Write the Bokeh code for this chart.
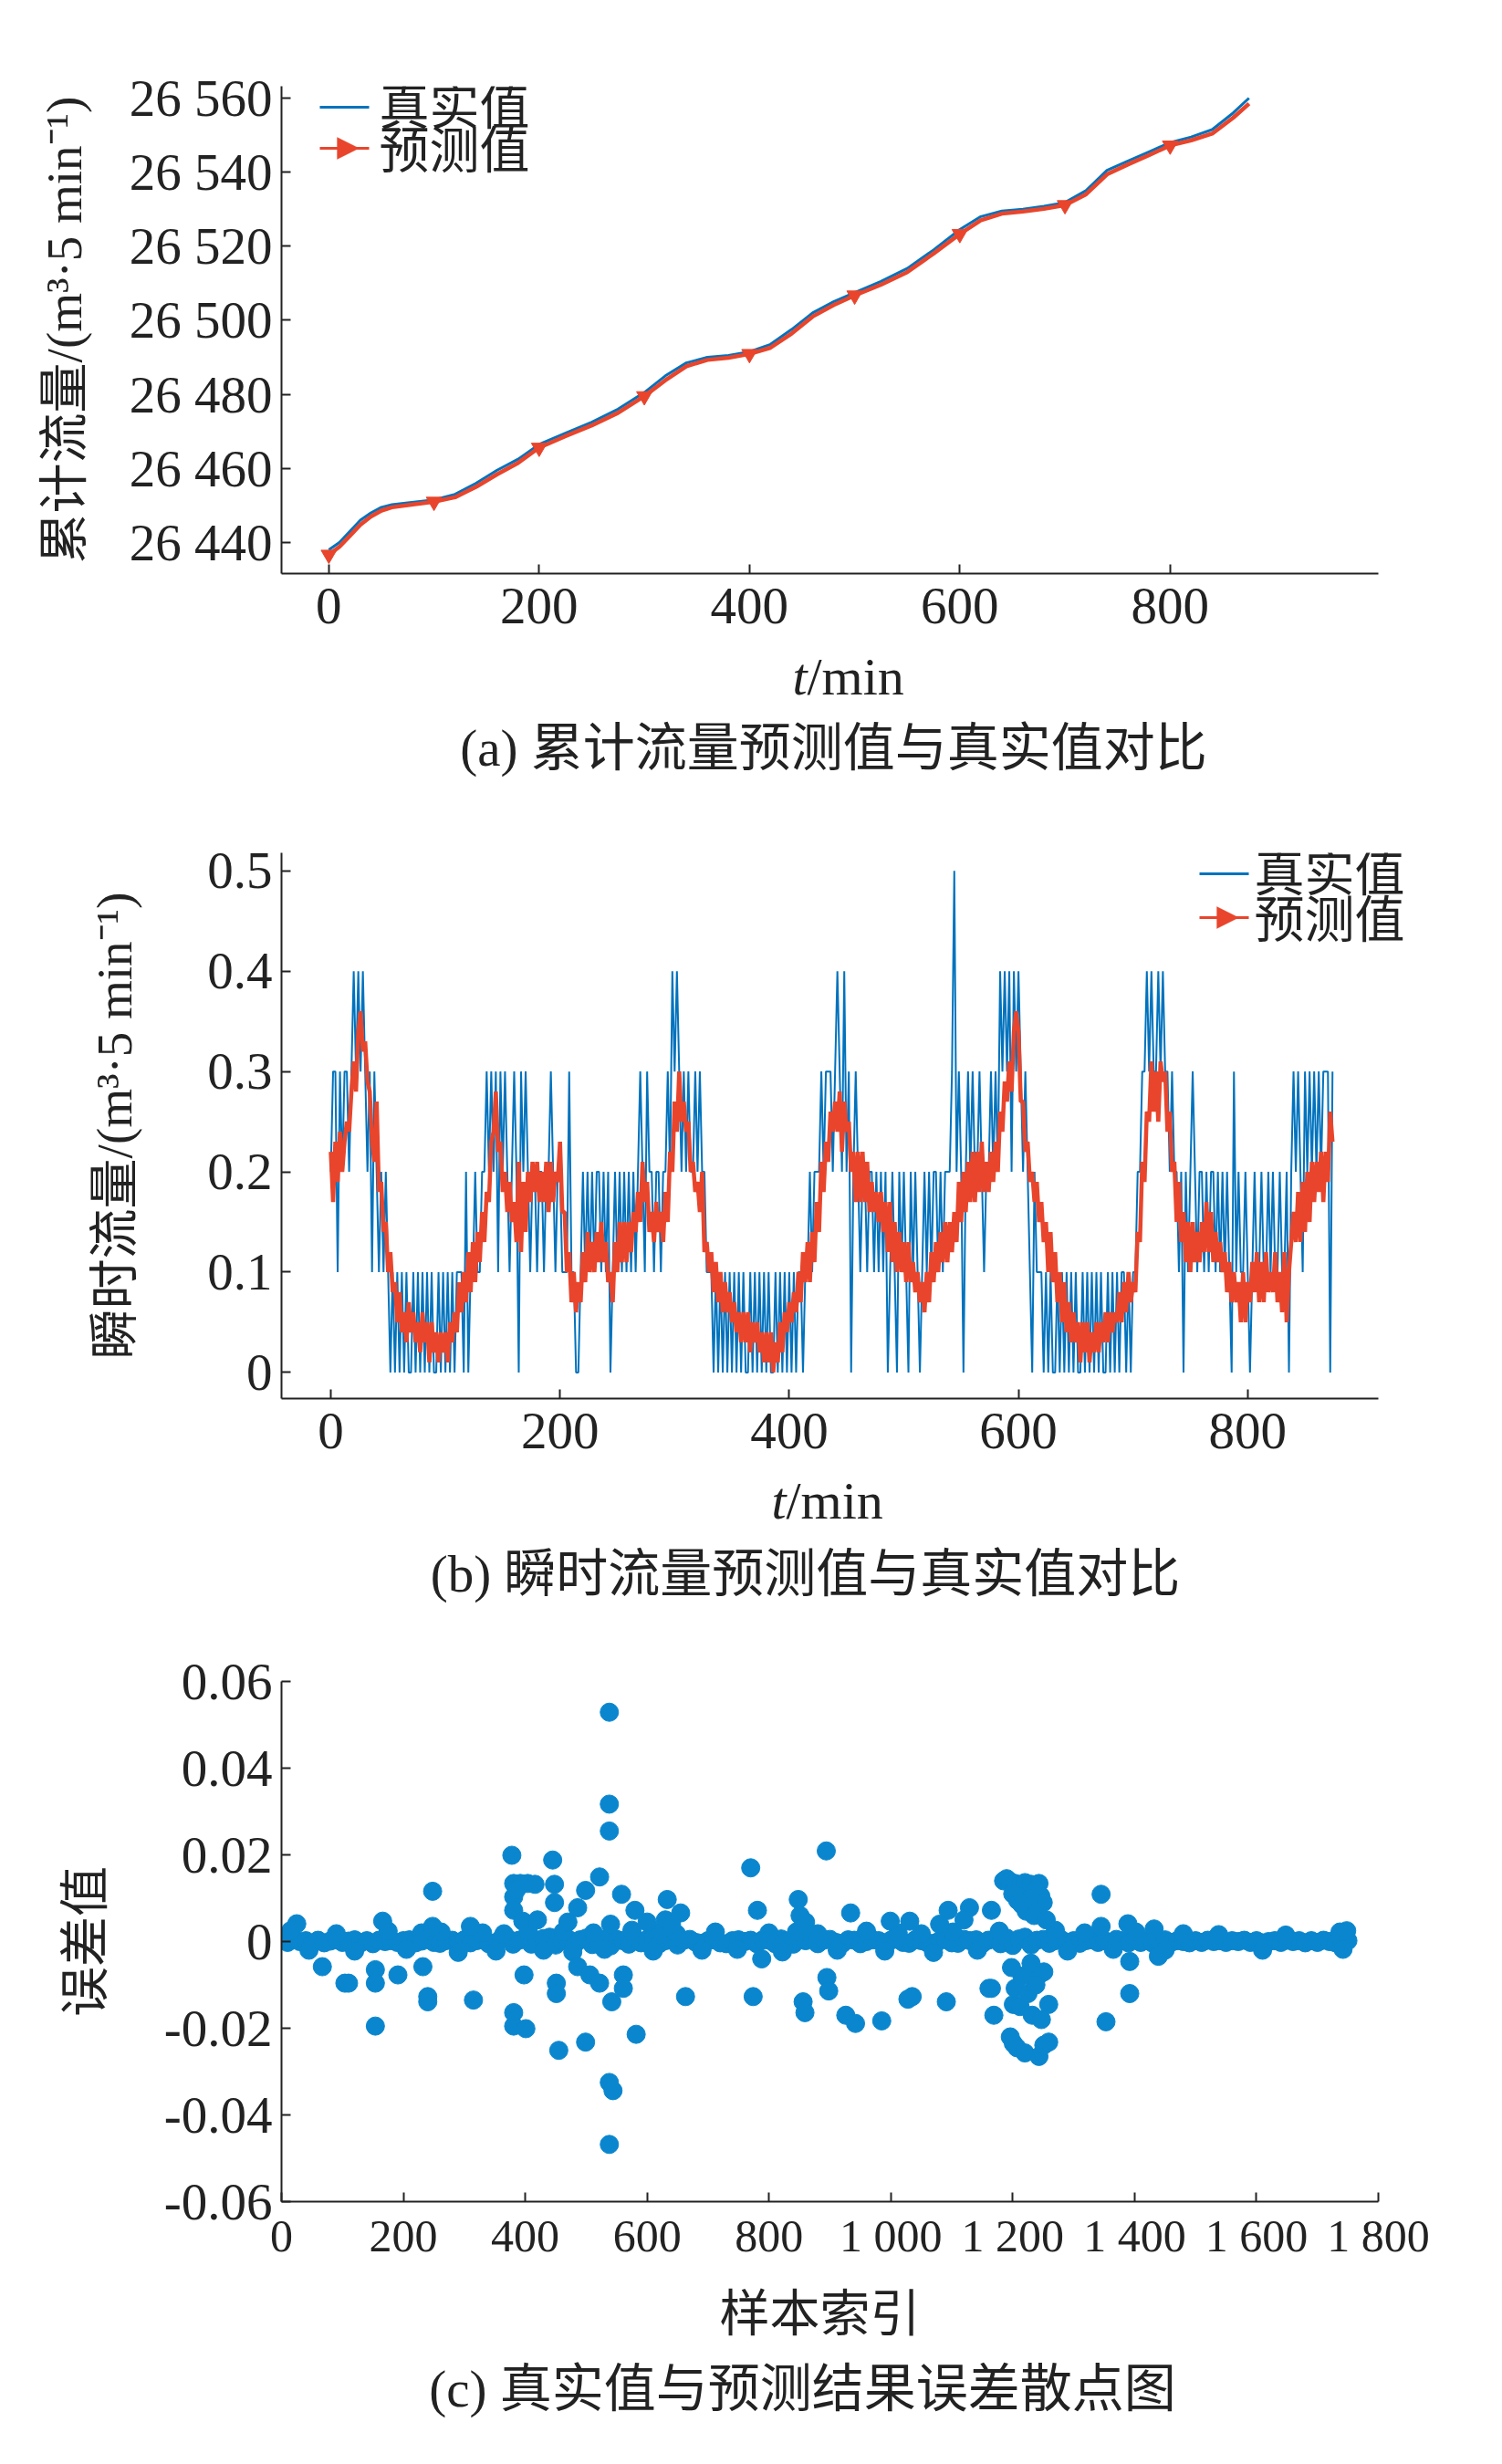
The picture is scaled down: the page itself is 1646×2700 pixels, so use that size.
import math
from bokeh.plotting import figure
from bokeh.layouts import column
from bokeh.models import ColumnDataSource, FixedTicker, Label, BoxAnnotation, PolyAnnotation, Range1d
from bokeh.embed import file_html
from bokeh.resources import INLINE

# ---- (a) cumulative flow, true vs predicted ----
a_t = [0, 10, 20, 30, 40, 50, 60, 75, 100, 120, 140, 160, 180, 200, 225, 250, 275, 300,
       320, 340, 360, 380, 400, 420, 440, 460, 480, 500, 525, 550, 575, 600, 620, 640,
       660, 680, 700, 720, 740, 760, 780, 800, 820, 840, 860, 875]
a_true = [26438.0, 26440.0, 26443.0, 26446.0, 26448.0, 26449.5, 26450.2, 26450.7, 26451.5,
          26453.0, 26456.0, 26459.5, 26462.5, 26466.5, 26469.5, 26472.5, 26476.0, 26480.5,
          26485.0, 26488.5, 26490.0, 26490.5, 26491.5, 26493.5, 26497.5, 26502.0, 26505.0,
          26507.5, 26510.5, 26514.0, 26519.0, 26524.5, 26528.0, 26529.5, 26530.0, 26530.8,
          26531.8, 26535.0, 26540.5, 26543.0, 26545.5, 26548.0, 26549.5, 26551.5, 26556.0, 26560.0]
a_pred = [26436.7, 26438.8, 26441.8, 26444.8, 26447.0, 26448.6, 26449.5, 26450.1, 26451.0,
          26452.2, 26455.0, 26458.4, 26461.5, 26465.6, 26468.7, 26471.6, 26475.0, 26479.5,
          26483.8, 26487.6, 26489.3, 26489.9, 26490.9, 26492.6, 26496.4, 26501.0, 26504.1,
          26506.7, 26509.6, 26513.0, 26518.0, 26523.3, 26527.0, 26528.8, 26529.4, 26530.1,
          26531.1, 26534.0, 26539.4, 26542.1, 26544.6, 26547.2, 26548.6, 26550.4, 26554.7, 26558.5]
a_yticks = [26440, 26460, 26480, 26500, 26520, 26540, 26560]
a_ylabels = ["26 440", "26 460", "26 480", "26 500", "26 520", "26 540", "26 560"]
t_ticks = [0, 200, 400, 600, 800]

# ---- (b) instantaneous flow, sampled every 2 min (true in 0.1 units, pred in 0.01 units) ----
b_true_tenths = [
    2, 3, 3, 1, 3, 2, 3, 3, 2, 3,   4, 3, 4, 3, 4, 3, 2, 3, 1, 3,
    2, 1, 2, 1, 2, 1, 0, 1, 0, 1,   0, 1, 0, 1, 0, 0, 1, 0, 1, 0,
    1, 0, 1, 0, 1, 0, 0, 1, 0, 1,   0, 1, 0, 1, 0, 1, 1, 1, 0, 2,
    0, 1, 1, 2, 1, 1, 2, 2, 3, 2,   3, 2, 3, 1, 3, 2, 3, 2, 1, 2,
    3, 2, 0, 3, 2, 3, 2, 1, 2, 2,   1, 2, 2, 1, 2, 2, 3, 2, 1, 2,
    2, 1, 1, 1, 3, 1, 1, 0, 0, 1,   2, 1, 2, 1, 2, 1, 2, 2, 1, 2,
    1, 2, 0, 1, 2, 1, 2, 1, 2, 1,   2, 1, 2, 1, 2, 3, 2, 1, 3, 2,
    2, 1, 2, 2, 1, 2, 2, 3, 2, 4,   3, 4, 3, 2, 3, 2, 3, 2, 2, 3,
    2, 3, 2, 2, 1, 1, 1, 0, 1, 0,   1, 0, 1, 0, 1, 0, 1, 0, 1, 0,
    1, 0, 0, 1, 0, 1, 0, 1, 0, 1,   0, 1, 0, 0, 1, 0, 1, 0, 1, 0,
    1, 0, 1, 0, 1, 1, 0, 1, 1, 2,   1, 2, 2, 2, 3, 2, 3, 3, 3, 2,
    3, 4, 3, 2, 4, 2, 3, 0, 2, 3,   2, 1, 2, 2, 1, 2, 2, 1, 2, 1,
    2, 1, 2, 0, 1, 2, 1, 0, 2, 1,   2, 1, 0, 2, 1, 2, 1, 0, 1, 2,
    1, 2, 1, 2, 2, 1, 2, 1, 2, 2,   2, 3, 5, 2, 3, 2, 0, 2, 3, 2,
    3, 2, 2, 3, 2, 1, 2, 2, 3, 2,   3, 2, 4, 3, 4, 3, 4, 2, 4, 3,
    4, 3, 2, 3, 2, 1, 0, 2, 1, 1,   1, 0, 1, 0, 1, 0, 0, 1, 0, 1,
    0, 1, 0, 1, 0, 1, 0, 0, 1, 0,   1, 0, 1, 0, 1, 0, 1, 0, 0, 1,
    0, 1, 0, 1, 0, 1, 1, 0, 1, 0,   1, 1, 2, 2, 3, 3, 4, 3, 4, 3,
    3, 4, 3, 4, 3, 3, 2, 3, 2, 2,   1, 2, 0, 2, 1, 2, 3, 2, 1, 2,
    2, 1, 2, 1, 2, 2, 1, 2, 1, 2,   1, 2, 1, 0, 3, 1, 2, 1, 1, 2,
    1, 0, 1, 2, 1, 1, 2, 1, 1, 2,   1, 2, 1, 1, 2, 1, 1, 2, 0, 2,
    3, 2, 3, 2, 1, 3, 2, 3, 2, 3,   2, 3, 2, 3, 3, 3, 0, 3]
b_pred_hund = [
    22, 17, 23, 19, 24, 20, 23, 25, 24, 28,   31, 28, 34, 36, 32, 33, 29, 28, 23, 21,
    27, 18, 19, 14, 15, 10, 12, 8, 9, 5,      8, 4, 6, 3, 7, 4, 6, 3, 5, 2,
    6, 3, 5, 1, 5, 2, 4, 1, 4, 2,             4, 1, 5, 3, 6, 4, 9, 6, 10, 7,
    12, 8, 13, 9, 14, 11, 16, 13, 18, 17,     23, 24, 28, 22, 23, 18, 20, 16, 19, 15,
    17, 13, 21, 12, 19, 14, 20, 17, 21, 18,   21, 17, 20, 17, 21, 16, 21, 17, 20, 19,
    23, 16, 16, 10, 12, 7, 10, 6, 9, 7,       12, 9, 14, 10, 13, 10, 14, 11, 15, 11,
    13, 9, 10, 7, 13, 10, 15, 11, 15, 11,     15, 12, 16, 14, 18, 15, 21, 17, 19, 14,
    16, 13, 17, 14, 16, 13, 18, 15, 22, 20,   27, 24, 30, 25, 27, 24, 25, 20, 21, 18,
    19, 16, 20, 12, 13, 10, 12, 8, 11, 7,     10, 6, 9, 6, 8, 5, 7, 4, 6, 3,
    6, 3, 6, 2, 5, 3, 5, 2, 4, 1,             4, 1, 4, 0, 3, 1, 5, 2, 6, 4,
    7, 5, 8, 6, 10, 7, 12, 9, 13, 9,          14, 11, 17, 14, 21, 18, 23, 21, 26, 24,
    27, 24, 28, 22, 27, 24, 25, 20, 22, 17,   22, 17, 22, 17, 21, 16, 19, 16, 18, 15,
    18, 14, 17, 12, 17, 11, 15, 10, 14, 10,   13, 9, 13, 9, 11, 8, 10, 7, 9, 6,
    10, 7, 12, 9, 13, 10, 14, 11, 15, 11,     15, 12, 16, 13, 19, 15, 20, 16, 21, 17,
    22, 17, 22, 18, 23, 18, 21, 18, 22, 19,   23, 20, 26, 24, 29, 27, 31, 28, 34, 36,
    34, 27, 27, 22, 23, 19, 20, 17, 19, 15,   17, 13, 15, 10, 14, 9, 12, 7, 10, 5,
    9, 4, 7, 3, 6, 3, 5, 1, 5, 2,             5, 1, 4, 2, 5, 2, 5, 3, 6, 3,
    6, 4, 6, 5, 8, 5, 9, 6, 10, 7,            9, 8, 14, 13, 21, 19, 26, 25, 31, 26,
    30, 25, 31, 29, 30, 24, 26, 20, 21, 15,   19, 13, 16, 11, 15, 10, 15, 11, 14, 11,
    15, 12, 17, 12, 16, 11, 14, 11, 13, 10,   12, 8, 11, 7, 10, 7, 9, 5, 10, 5,
    9, 7, 11, 8, 12, 7, 11, 7, 12, 8,         10, 8, 12, 7, 10, 6, 12, 5, 10, 13,
    16, 13, 18, 13, 19, 14, 20, 15, 21, 17,   21, 18, 22, 17, 22, 19, 26, 23]
b_t = list(range(0, 876, 2))
b_yticks = [0, 0.1, 0.2, 0.3, 0.4, 0.5]
b_ylabels = ["0", "0.1", "0.2", "0.3", "0.4", "0.5"]

# ---- (c) prediction error scatter ----
band_step = 10
band_err_e4 = [
    3, -2, 5, 0, 2, -4, 3, -3, 1, 4,      -2, 1, 4, -3, 2, -5, 3, 0, 2, -2,
    2, 4, -3, 1, 5, -2, -4, 2, 3, -3,     4, -3, 2, 8, -5, -3, 6, 9, -6, 3,
    5, -6, 3, 7, 10, -8, 2, 6, -9, 4,     8, -7, 3, 6, -10, 5, 2, -6, 7, -3,
    5, 9, -5, 2, 6, -8, 3, 5, -2, -4,     2, 4, -3, -5, 2, 4, 0, 3, -5, 4,
    3, -5, 6, 0, -6, 5, 2, 8, -5, 3,      5, -2, -5, 4, 3, -5, 0, 4, 2, -4,
    3, 5, -2, -4, 4, 2, -3, -4, 2, 5,     -3, -4, 5, 2, 4, -5, 3, 6, -5, 8,
    -9, 6, 10, -8, 3, 5, -4, 2, 4, -2,    2, -4, 2, 4, -2, 3, -4, 5, 2, -3,
    4, -2, 2, -4, 2, 4, -2, 2, 0, -3,     2, -2, 3, 0, 2, -2, 2, 0, 3, -2,
    2, -3, 0, 2, -2, 3, 0, 2, -3, 2,      -2, 3, 0, -3, 4, 2]
bump_idx = [15, 45, 90, 120, 175, 205, 230, 262, 290, 330,
            352, 365, 405, 430, 462, 478, 512, 530, 575, 610,
            622, 648, 690, 712, 748, 800, 822, 845, 880, 912,
            960, 990, 1012, 1050, 1070, 1102, 1142, 1178, 1270, 1290,
            1318, 1365, 1402, 1450, 1480, 1538, 1610, 1648, 1742, 1748]
bump_err = [0.0025, -0.0020, 0.0018, -0.0022, 0.0024, -0.0018, 0.0020, 0.0022, -0.0025, 0.0020,
            -0.0022, 0.0018, 0.0025, -0.0020, 0.0022, -0.0024, 0.0020, -0.0018, 0.0026, -0.0022,
            0.0024, 0.0018, -0.0020, 0.0022, -0.0018, 0.0020, -0.0024, 0.0022, 0.0018, -0.0020,
            0.0024, -0.0022, 0.0020, 0.0018, -0.0025, 0.0022, -0.0020, 0.0024, 0.0026, -0.0022,
            0.0020, -0.0018, 0.0022, -0.0020, 0.0018, 0.0016, -0.0020, 0.0015, -0.0018, 0.0025]
out_idx = [538, 538, 538, 538, 544, 538, 378, 445, 770, 894, 522, 499, 248, 1345,
           381, 392, 404, 416, 381, 381, 386, 448, 448, 486, 558, 580, 633, 848, 851,
           934, 1094, 1129, 1165,
           1185, 1190, 1196, 1204, 1212, 1220, 1230, 1243, 1238, 1246, 1250, 1228, 1215,
           1200, 1208, 1222, 1235, 1255,
           1196, 1201, 1207, 1220, 1243, 1251, 1259, 1232, 1259, 1201, 1204, 1243, 1251,
           1165, 1169, 1212, 1225, 1238, 1215, 1198, 1230, 1247,
           67, 104, 110, 154, 154, 154, 191, 232, 240, 240, 315, 381, 381, 401, 398, 451,
           451, 455, 499, 486, 506, 522, 542, 561, 561, 582, 663, 774, 788, 856, 859, 895,
           898, 926, 942, 985, 1028, 1035, 1091, 1161, 1392, 1392, 1353, 1439,
           25, 166, 248, 310, 396, 655, 781, 999, 1031, 1345, 1389, 1432, 1737, 630, 640,
           1080, 1120, 860, 540, 420, 600, 470]
out_err = [0.0529, 0.0317, 0.0255, -0.0325, -0.0344, -0.0468, 0.0199, 0.0188, 0.0170,
           0.0209, 0.0149, 0.0118, 0.0116, 0.0109,
           0.0134, 0.0134, 0.0134, 0.0132, 0.0103, 0.0072, 0.0120, 0.0132, 0.0090, 0.0078,
           0.0109, 0.0072, 0.0097, 0.0097, 0.0060, 0.0066, 0.0072, 0.0078, 0.0072,
           0.0140, 0.0145, 0.0138, 0.0134, 0.0130, 0.0136, 0.0132, 0.0134, 0.0120, 0.0105,
           0.0090, 0.0100, 0.0085, 0.0110, 0.0095, 0.0070, 0.0060, 0.0050,
           -0.0220, -0.0235, -0.0245, -0.0257, -0.0265, -0.0239, -0.0232, -0.0170, -0.0145,
           -0.0145, -0.0108, -0.0077, -0.0070, -0.0108, -0.0170, -0.0150, -0.0120, -0.0100,
           -0.0080, -0.0060, -0.0050, -0.0180,
           -0.0058, -0.0096, -0.0096, -0.0065, -0.0096, -0.0195, -0.0077, -0.0058, -0.0127,
           -0.0139, -0.0135, -0.0164, -0.0195, -0.0201, -0.0077, -0.0096, -0.0120, -0.0251,
           -0.0232, -0.0058, -0.0077, -0.0096, -0.0139, -0.0108, -0.0077, -0.0214, -0.0127,
           -0.0127, -0.0040, -0.0139, -0.0164, -0.0083, -0.0114, -0.0170, -0.0189, -0.0183,
           -0.0133, -0.0127, -0.0139, -0.0108, -0.0046, -0.0120, -0.0185, -0.0034,
           0.0041, 0.0047, 0.0035, 0.0035, 0.0047, 0.0066, 0.0072, 0.0047, 0.0047, 0.0035,
           0.0041, 0.0029, 0.0022, 0.0050, 0.0040, 0.0040, 0.0050, 0.0045, 0.0040, 0.0050,
           0.0045, 0.0045]
c_xticks = [0, 200, 400, 600, 800, 1000, 1200, 1400, 1600, 1800]
c_xlabels = ["0", "200", "400", "600", "800", "1 000", "1 200", "1 400", "1 600", "1 800"]
c_yticks = [-0.06, -0.04, -0.02, 0, 0.02, 0.04, 0.06]
c_ylabels = ["-0.06", "-0.04", "-0.02", "0", "0.02", "0.04", "0.06"]

BLUE = "#0072BD"
RED = "#E8452C"
DOT = "#0A86CE"
INK = "#222222"
NUM_FONT = "Liberation Serif"
MIX_FONT = "'Liberation Serif', 'Noto Sans CJK SC'"

W = 1630
LEFT = 308
AXIS_W = 1202          # drawn length of the x axis
FRAME_X0 = 8 + LEFT    # page x of every frame's left edge


def make_fig(height, top, frame_h, x0, x1, yr, ylabel, ystand):
    # frame runs to the right edge of the canvas; the x axis line stops at x1
    x_end = x0 + (W - LEFT) * (x1 - x0) / AXIS_W
    p = figure(width=W, height=height, x_range=Range1d(x0, x_end), y_range=yr,
               output_backend="svg", toolbar_location=None,
               min_border_left=LEFT, min_border_right=0,
               min_border_top=top, min_border_bottom=height - top - frame_h)
    p.outline_line_color = None
    p.grid.visible = False
    for ax in (p.xaxis[0], p.yaxis[0]):
        ax.axis_line_color = INK
        ax.axis_line_width = 2
        ax.major_tick_line_color = INK
        ax.major_tick_line_width = 2
        ax.major_tick_in = 10
        ax.major_tick_out = 0
        ax.minor_tick_line_color = None
        ax.major_label_text_font = NUM_FONT
        ax.major_label_text_font_size = "57px"
        ax.major_label_text_color = INK
    p.xaxis.bounds = (x0, x1)
    p.xaxis.major_label_standoff = 16
    p.yaxis.major_label_standoff = 10
    p.yaxis.axis_label = ylabel
    p.yaxis.axis_label_text_font = MIX_FONT
    p.yaxis.axis_label_text_font_size = "55px"
    p.yaxis.axis_label_text_font_style = "normal"
    p.yaxis.axis_label_text_color = INK
    p.yaxis.axis_label_standoff = ystand
    return p


def make_strip(height):
    # text-only band under a panel; its frame starts at FRAME_X0 and ends at the canvas bottom
    s = figure(width=W, height=height, x_axis_type=None, y_axis_type=None,
               output_backend="svg", toolbar_location=None,
               min_border_left=LEFT, min_border_right=0, min_border_top=0, min_border_bottom=0)
    s.outline_line_color = None
    s.grid.visible = False
    return s


def put(p, fb, px, py, text, size, align="center", style="normal", font=MIX_FONT):
    # px, py: page position; fb: page y of the frame bottom
    p.add_layout(Label(x=px - FRAME_X0, y=fb - py, x_units="screen", y_units="screen",
                       text=text, text_font=font, text_font_size=f"{size}px",
                       text_font_style=style, text_align=align, text_baseline="middle",
                       text_color=INK))


def legend(p, fb, x0, x1, y_true, y_pred, tx):
    for y, c in ((y_true, BLUE), (y_pred, RED)):
        p.add_layout(BoxAnnotation(left=x0 - FRAME_X0, right=x1 - FRAME_X0,
                                   bottom=fb - y - 1.5, top=fb - y + 1.5,
                                   left_units="screen", right_units="screen",
                                   bottom_units="screen", top_units="screen",
                                   fill_color=c, fill_alpha=1, line_alpha=0))
    xm = (x0 + x1) / 2 - 8
    p.add_layout(PolyAnnotation(xs=[xm - FRAME_X0, xm - FRAME_X0, xm + 24 - FRAME_X0],
                                ys=[fb - y_pred + 12, fb - y_pred - 12, fb - y_pred],
                                xs_units="screen", ys_units="screen",
                                fill_color=RED, fill_alpha=1, line_color=RED))
    put(p, fb, tx, y_true, "真实值", 55, align="left")
    put(p, fb, tx, y_pred + 3, "预测值", 55, align="left")


def x_title(s, fb, split_x, py):
    put(s, fb, split_x, py, "t", 58, align="right", style="italic", font=NUM_FONT)
    put(s, fb, split_x, py, "/min", 58, align="left", font=NUM_FONT)


# ---------- panel (a): page y 8..708, strip 708..888 ----------
fbA = 636
pa = make_fig(700, 94, 534, -45, 998, Range1d(26431.6, 26563.2),
              "累计流量/(m³·5 min⁻¹)", 38)
pa.line(a_t, a_true, color=BLUE, line_width=3)
pa.line(a_t, a_pred, color=RED, line_width=4.5)
mk = ColumnDataSource(dict(t=[t for t in a_t if t % 100 == 0],
                           v=[v for t, v in zip(a_t, a_pred) if t % 100 == 0]))
pa.scatter("t", "v", source=mk, marker="inverted_triangle", size=17, color=RED)
pa.xaxis.ticker = FixedTicker(ticks=t_ticks)
pa.yaxis.ticker = FixedTicker(ticks=a_yticks)
pa.yaxis.major_label_overrides = dict(zip(a_yticks, a_ylabels))
legend(pa, fbA, 358, 412, 125, 170, 423)

sa = make_strip(180)
x_title(sa, 888, 892, 749)
put(sa, 888, 921, 827, "(a) 累计流量预测值与真实值对比", 57)

# ---------- panel (b): page y 888..1612, strip 1612..1788 ----------
fbB = 1540
pb = make_fig(724, 54, 598, -43, 914, Range1d(-0.026, 0.518),
              "瞬时流量/(m³·5 min⁻¹)", 68)
pb.line(b_t, [v / 10 for v in b_true_tenths], color=BLUE, line_width=2)
pb.line(b_t, [v / 100 for v in b_pred_hund], color=RED, line_width=4.5)
pb.xaxis.ticker = FixedTicker(ticks=t_ticks)
pb.yaxis.ticker = FixedTicker(ticks=b_yticks)
pb.yaxis.major_label_overrides = dict(zip(b_yticks, b_ylabels))
legend(pb, fbB, 1322, 1376, 965, 1013, 1382)

sb = make_strip(176)
x_title(sb, 1788, 869, 1652)
put(sb, 1788, 890, 1732, "(b) 瞬时流量预测值与真实值对比", 57)

# ---------- panel (c): page y 1788..2500, strip 2500..2690 ----------
pc = make_fig(712, 62, 570, 0, 1800, Range1d(-0.06, 0.06), "误差值", 53)
band_idx = [i * band_step for i in range(len(band_err_e4))]
pc.scatter(band_idx, [v / 10000 for v in band_err_e4], size=20, color=DOT)
pc.scatter(bump_idx, bump_err, size=20, color=DOT)
pc.scatter(out_idx, out_err, size=20, color=DOT)
pc.xaxis.ticker = FixedTicker(ticks=c_xticks)
pc.xaxis.major_label_overrides = dict(zip(c_xticks, c_xlabels))
pc.xaxis.major_label_text_font_size = "50px"
pc.xaxis.major_label_standoff = 9
pc.yaxis.ticker = FixedTicker(ticks=c_yticks)
pc.yaxis.major_label_overrides = dict(zip(c_yticks, c_ylabels))

sc = make_strip(190)
put(sc, 2690, 906, 2543, "样本索引", 55)
put(sc, 2690, 887, 2625, "(c) 真实值与预测结果误差散点图", 57)

layout = column(pa, sa, pb, sb, pc, sc, spacing=0)
open("out.html", "w").write(file_html(layout, INLINE))
